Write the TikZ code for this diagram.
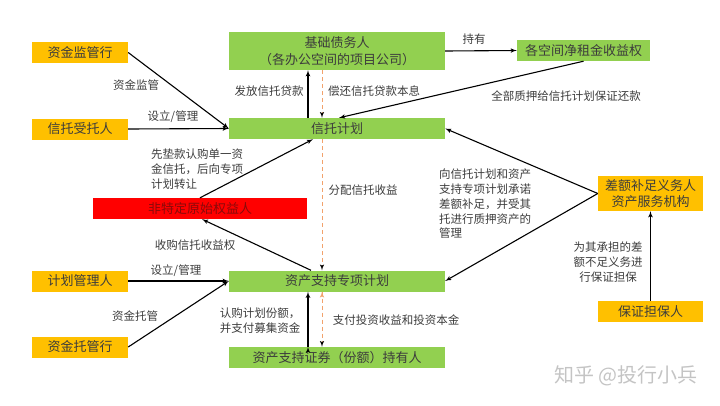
\documentclass[tikz,border=0pt]{standalone}
\usepackage{fontspec}
\setmainfont{Noto Sans CJK SC}
\usetikzlibrary{arrows,positioning}
\definecolor{leafgreen}{HTML}{92D050}
\definecolor{amber}{HTML}{FFC000}
\definecolor{flowred}{HTML}{FF0000}
\definecolor{cashline}{HTML}{F2A26C}
\definecolor{txtgray}{HTML}{3C3C3C}
\definecolor{darkred}{HTML}{8A0A0A}
\definecolor{markgray}{HTML}{C4C4C4}

\begin{document}
\begin{tikzpicture}[x=1pt, y=-1pt, >=latex',
 party/.style = {fill=amber, minimum height=21pt, minimum width=96pt, inner sep=0pt, align=center,
                 text=txtgray, font=\fontsize{13}{16}\selectfont},
 plan/.style  = {fill=leafgreen, minimum height=21pt, minimum width=216pt, inner sep=0pt, align=center,
                 text=txtgray, font=\fontsize{13}{16.5}\selectfont},
 lbl/.style   = {inner sep=0pt, text=txtgray, font=\fontsize{11.5}{14.8}\selectfont},
 flow/.style  = {draw, ->, line width=1.1pt},
 cash/.style  = {draw=cashline, ->, line width=1pt, dash pattern=on 4pt off 3pt},
                        ]
    \useasboundingbox (0,0) rectangle (720,405);

%% parties on the left
    \node [party]                       (jgh)   at (80,52.5)  {资金监管行};
    \node [party]                       (stt)   at (80,129)   {信托受托人};
    \node [party]                       (jhg)   at (80,281)   {计划管理人};
    \node [party]                       (zjt)   at (80,347)   {资金托管行};

%% the trust and the plan
    \node [plan, minimum height=38pt]   (jc)    at (337,51)   {基础债务人\\（各办公空间的项目公司）};
    \node [plan]                        (xt)    at (337,128.5) {信托计划};
    \node [plan]                        (zx)    at (337,281)  {资产支持专项计划};
    \node [plan]                        (cy)    at (337,357.5) {资产支持证券（份额）持有人};
    \node [plan, minimum width=133pt]   (zqy)   at (583.5,50.5) {各空间净租金收益权};
    \node [plan, fill=flowred, minimum width=214pt, text=darkred] (yq) at (200,208.5) {非特定原始权益人};

%% parties on the right
    \node [party, minimum width=105pt, minimum height=35pt] (cb) at (650.5,193.5) {差额补足义务人\\资产服务机构};
    \node [party, minimum width=105pt]  (bz)    at (650.5,311.5) {保证担保人};

%% labels
    \node [lbl] (l_jg)   at (136,85)   {资金监管};
    \node [lbl] (l_sl1)  at (173,117)  {设立/管理};
    \node [lbl] (l_ff)   at (269,91)   {发放信托贷款};
    \node [lbl] (l_ch)   at (374,91)   {偿还信托贷款本息};
    \node [lbl] (l_cy)   at (474,39)   {持有};
    \node [lbl] (l_zy)   at (566,96)   {全部质押给信托计划保证还款};
    \node [lbl, align=left] (l_dk) at (197,169) {先垫款认购单一资\\金信托，后向专项\\计划转让};
    \node [lbl] (l_fp)   at (363,190)  {分配信托收益};
    \node [lbl] (l_sg)   at (195,245)  {收购信托收益权};
    \node [lbl] (l_sl2)  at (176,271)  {设立/管理};
    \node [lbl] (l_tg)   at (135,316)  {资金托管};
    \node [lbl, align=left] (l_rg) at (260,321) {认购计划份额，\\并支付募集资金};
    \node [lbl] (l_zf)   at (396,320)  {支付投资收益和投资本金};
    \node [lbl, align=left] (l_cn) at (485,204) {向信托计划和资产\\支持专项计划承诺\\差额补足，并受其\\托进行质押资产的\\管理};
    \node [lbl, align=center] (l_bz) at (608,262) {为其承担的差\\额不足义务进\\行保证担保};
    \node [inner sep=0pt, text=markgray, font=\fontsize{20}{24}\selectfont] (mark) at (626,376) {知乎 @投行小兵};

%% paths
    \path[flow] (jgh.east)                edge  (xt.west)
                (stt.east)                edge  (xt.west)
                ([xshift=-29pt]xt.north)  edge  ([xshift=-29pt]jc.south)
                (jc.east)                 edge  (zqy.west)
                (zqy.south)               edge  ([xshift=2pt]xt.north)
                (cb.west)                 edge  (xt.east)
                (cb.west)                 edge  (zx.east)
                (bz.north)                edge  (cb.south)
                (yq.north)                edge  ([xshift=-24pt]xt.south)
                ([xshift=-26pt]zx.north)  edge  ([xshift=2pt]yq.south)
                (jhg.east)                edge  (zx.west)
                (zjt.east)                edge  (zx.west)
                ([xshift=-29pt]cy.north)  edge  ([xshift=-29pt]zx.south)
                ;
    \path[cash] ([xshift=-15pt]jc.south)  edge  ([xshift=-15pt]xt.north)
                ([xshift=-15pt]xt.south)  edge  ([xshift=-15pt]zx.north)
                ([xshift=-15pt]zx.south)  edge  ([xshift=-15pt]cy.north)
                ;
\end{tikzpicture}
\end{document}
